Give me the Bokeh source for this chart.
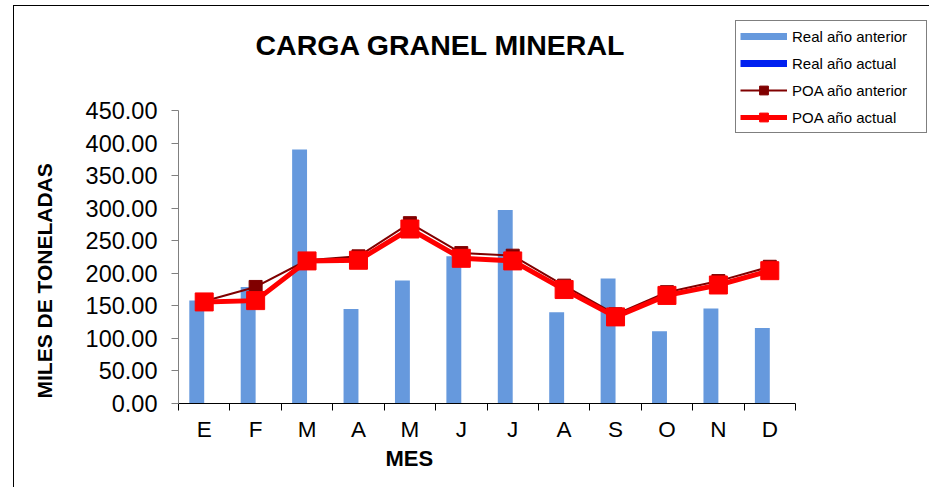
from bokeh.plotting import figure
from bokeh.models import (FixedTicker, NumeralTickFormatter, Legend, LegendItem,
                          Title, Label, Range1d)
from bokeh.embed import file_html
from bokeh.resources import INLINE

nan = float("nan")
months = ["E", "F", "M", "A", "M", "J", "J", "A", "S", "O", "N", "D"]
real_anterior = [158, 179, 390, 145, 189, 226, 297, 140, 192, 111, 146, 116]
real_actual = [nan] * 12          # no values reported yet
poa_anterior = [157, 179, 220, 226, 277, 231, 227, 181, 137, 171, 188, 210]
poa_actual = [156, 158, 219, 220, 268, 223, 219, 175, 133, 166, 182, 204]
y_ticks = [0, 50, 100, 150, 200, 250, 300, 350, 400, 450]

FONT = "Liberation Sans"
BAR = "#6699DD"
BAR2 = "#0020F0"

# layout constants (pixels)
W, H = 929, 487
LEFT, AXIS_Y0, AXIS_Y450, CAT_W = 178, 403, 110, 617 / 12
n = len(months)
x_end = n * (W - LEFT) / (CAT_W * n)
y_end = 450 * AXIS_Y0 / (AXIS_Y0 - AXIS_Y450)

xc = [i + 0.5 for i in range(n)]
bar_w = 0.29
xb = [c - bar_w / 2 for c in xc]
xb2 = [c + bar_w / 2 for c in xc]

p = figure(width=W, height=H, output_backend="svg", toolbar_location=None,
           x_range=Range1d(0, x_end), y_range=Range1d(0, y_end),
           min_border_left=LEFT, min_border_right=0, min_border_top=0,
           min_border_bottom=H - AXIS_Y0, outline_line_color=None,
           background_fill_color=None, border_fill_color=None,
           styles={"background": "linear-gradient(#000,#000) 13px 5px / 1px 100% no-repeat, "
                                 "linear-gradient(#000,#000) 13px 5px / 100% 1px no-repeat, #fff"})
p.grid.visible = False

p.vbar(x=xb, top=real_anterior, width=bar_w, fill_color=BAR, line_color=None)
p.vbar(x=xb2, top=real_actual, width=bar_w, fill_color=BAR2, line_color=None)

l1 = p.line(xc, poa_anterior, line_color="#800000", line_width=2)
s1 = p.scatter(xc, poa_anterior, marker="square", size=13, fill_color="#800000",
               line_color="#800000")
l2 = p.line(xc, poa_actual, line_color="#FF0000", line_width=5)
s2 = p.scatter(xc, poa_actual, marker="square", size=18, fill_color="#FF0000",
               line_color="#FF0000")

# legend swatches for the bar series (Excel style short thick bars)
d1 = p.line(xc, real_actual, line_color=BAR, line_width=7)
d2 = p.line(xc, real_actual, line_color=BAR2, line_width=7)

# axes
xa = p.xaxis[0]
xa.bounds = (0, n)
xa.ticker = FixedTicker(ticks=xc, minor_ticks=list(range(n + 1)))
xa.major_label_overrides = {c: m for c, m in zip(xc, months)}
xa.major_tick_line_color = None
xa.minor_tick_in = 0
xa.minor_tick_out = 7
xa.minor_tick_line_color = "#000000"
xa.axis_line_color = "#000000"
xa.major_label_text_font = FONT
xa.major_label_text_font_size = "22.5px"
xa.major_label_text_color = "#000000"
xa.major_label_standoff = 6

ya = p.yaxis[0]
ya.bounds = (0, 450)
ya.ticker = FixedTicker(ticks=y_ticks)
ya.formatter = NumeralTickFormatter(format="0.00")
ya.major_tick_in = 0
ya.major_tick_out = 7
ya.minor_tick_line_color = None
ya.axis_line_color = "#808080"
ya.major_tick_line_color = "#808080"
ya.major_label_text_font = FONT
ya.major_label_text_font_size = "23.5px"
ya.major_label_text_color = "#000000"
ya.major_label_standoff = 14

p.add_layout(Label(x=5.1, y=551, text="CARGA GRANEL MINERAL", text_font=FONT,
                   text_font_size="28.5px", text_font_style="bold",
                   text_align="center", text_baseline="middle",
                   text_color="#000000"))
p.add_layout(Title(text="MES", text_font=FONT,
                   text_font_size="22px", text_font_style="bold",
                   align="left", offset=207, vertical_align="top", standoff=2,
                   text_color="#000000"), "below")
p.add_layout(Title(text="MILES DE TONELADAS", text_font=FONT,
                   text_font_size="21px", text_font_style="bold",
                   align="left", offset=5, vertical_align="bottom", standoff=54,
                   text_color="#000000"), "left")

legend = Legend(items=[
    LegendItem(label="Real año anterior", renderers=[d1]),
    LegendItem(label="Real año actual", renderers=[d2]),
    LegendItem(label="POA año anterior", renderers=[l1, s1]),
    LegendItem(label="POA año actual", renderers=[l2, s2]),
], location=(735 - LEFT, AXIS_Y0 - 22 - 111))
legend.glyph_width = 47
legend.glyph_height = 22
legend.label_height = 22
legend.spacing = 5
legend.padding = 4
legend.label_standoff = 5
legend.label_width = 130
legend.label_text_font = FONT
legend.label_text_font_size = "15px"
legend.label_text_color = "#000000"
legend.border_line_color = "#000000"
legend.border_line_width = 1
legend.background_fill_color = "white"
legend.background_fill_alpha = 1
legend.margin = 0
p.add_layout(legend, "center")

open("out.html", "w").write(file_html(p, INLINE))
